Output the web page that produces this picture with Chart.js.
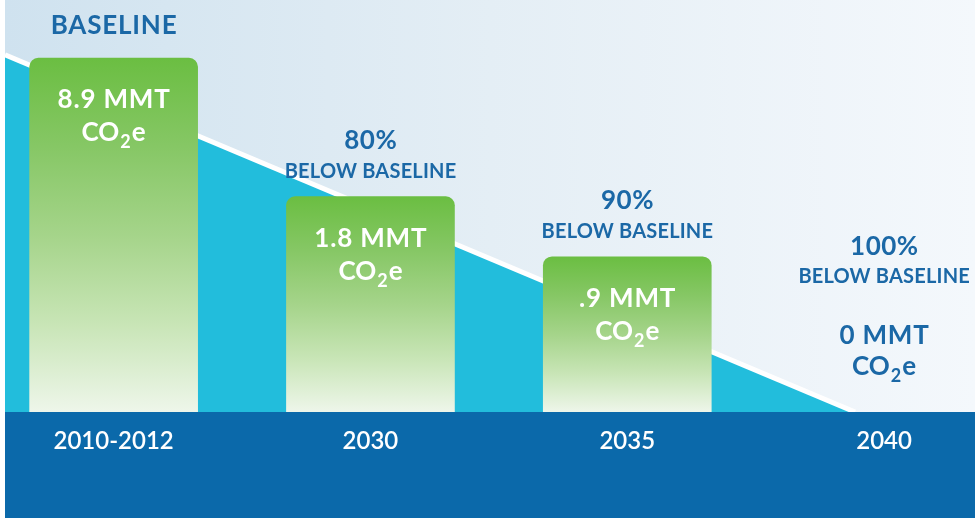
<!DOCTYPE html>
<html>
<head>
<meta charset="utf-8">
<script src="https://cdn.jsdelivr.net/npm/chart.js@4/dist/chart.umd.min.js"></script>
<style>
  html, body { margin: 0; padding: 0; background: #fff; }
</style>
</head>
<body>
<canvas id="emissions" width="975" height="518"></canvas>
<script>
const periods = ['2010-2012', '2030', '2035', '2040'];
const emissions = [8.9, 1.8, 0.9, 0];        // MMT CO2e
const belowBaseline = [0, 80, 90, 100];      // % below baseline
// reduction path drawn behind the bars (x = period index, y = level on 0-100)
const pathX = [-0.423, 2.887];
const pathY = [86.7, 0];

const BLUE = '#1b68a6';
const FONT = 'Lato, "Open Sans", sans-serif';

function fmtMMT(v) {
  const s = String(v);
  return (v > 0 && v < 1 ? s.replace(/^0/, '') : s) + ' MMT';
}

function barFill(c) {
  const chart = c.chart;
  const area = chart.chartArea;
  if (!area || !c.parsed || !(c.parsed.y > 0)) return 'rgba(0,0,0,0)';
  const top = chart.scales.y.getPixelForValue(c.parsed.y);
  const g = chart.ctx.createLinearGradient(0, top, 0, area.bottom);
  g.addColorStop(0, '#6bbe42');
  g.addColorStop(0.25, '#86c765');
  g.addColorStop(0.5, '#a5d48a');
  g.addColorStop(0.75, '#c8e5b6');
  g.addColorStop(1, '#eef6ea');
  return g;
}

// text centred on its cap height
function capText(ctx, str, cx, cy, size, color, spacing) {
  ctx.font = 'bold ' + size + 'px ' + FONT;
  ctx.letterSpacing = (spacing || 0) + 'px';
  ctx.fillStyle = color;
  ctx.textAlign = 'center';
  ctx.textBaseline = 'alphabetic';
  ctx.fillText(str, cx + (spacing || 0) / 2, cy + size * 0.36);
  ctx.letterSpacing = '0px';
}

function co2e(ctx, cx, cy, color) {
  const big = 'bold 26px ' + FONT, small = 'bold 18px ' + FONT;
  ctx.letterSpacing = '0px';
  ctx.font = big;
  const wCO = ctx.measureText('CO').width + 1, wE = ctx.measureText('e').width;
  ctx.font = small;
  const w2 = ctx.measureText('2').width + 1;
  const x0 = cx - (wCO + w2 + wE) / 2;
  const base = cy + 26 * 0.36;
  ctx.fillStyle = color;
  ctx.textAlign = 'left';
  ctx.textBaseline = 'alphabetic';
  ctx.font = big;
  ctx.fillText('CO', x0, base);
  ctx.font = small;
  ctx.fillText('2', x0 + wCO, base + 7);
  ctx.font = big;
  ctx.fillText('e', x0 + wCO + w2, base);
}

const backdrop = {
  id: 'backdrop',
  beforeDraw(chart) {
    const {ctx, chartArea: a, width, height} = chart;
    ctx.save();
    ctx.fillStyle = '#fff';
    ctx.fillRect(0, 0, width, height);
    const g = ctx.createLinearGradient(a.left, 0, a.right, 0);
    g.addColorStop(0, '#cfe2ef');
    g.addColorStop(0.5, '#e4eef5');
    g.addColorStop(1, '#f4f8fc');
    ctx.fillStyle = g;
    ctx.fillRect(a.left, 0, a.right - a.left, a.bottom);
    ctx.fillStyle = '#0b69aa';
    ctx.fillRect(a.left, a.bottom, a.right - a.left, height - a.bottom);
    ctx.restore();
  }
};

const barLabels = {
  id: 'barLabels',
  afterDatasetsDraw(chart) {
    const {ctx, chartArea: a, scales: {x, y}} = chart;
    ctx.save();
    emissions.forEach((v, i) => {
      const cx = x.getPixelForValue(i);
      if (v > 0) {
        const top = y.getPixelForValue(v);
        capText(ctx, fmtMMT(v), cx, top + 41, 26, '#fff', 0.8);
        co2e(ctx, cx, top + 74, '#fff');
        if (belowBaseline[i] === 0) {
          capText(ctx, 'BASELINE', cx, top - 33, 26, BLUE, 0.8);
        } else {
          capText(ctx, belowBaseline[i] + '%', cx, top - 57, 26, BLUE, 0.5);
          capText(ctx, 'BELOW BASELINE', cx, top - 26, 20, BLUE, 0.2);
        }
      } else {
        const base = a.bottom;
        capText(ctx, belowBaseline[i] + '%', cx, base - 166, 26, BLUE, 0.5);
        capText(ctx, 'BELOW BASELINE', cx, base - 136, 20, BLUE, 0.2);
        capText(ctx, fmtMMT(v), cx, base - 77, 26, BLUE, 0.8);
        co2e(ctx, cx, base - 46, BLUE);
      }
    });
    ctx.restore();
  }
};

new Chart(document.getElementById('emissions'), {
  type: 'bar',
  data: {
    datasets: [
      {
        type: 'line',
        data: pathX.map((px, i) => ({x: px, y: pathY[i]})),
        yAxisID: 'y2',
        borderColor: '#ffffff',
        borderWidth: 5,
        backgroundColor: '#22bddc',
        fill: 'origin',
        pointRadius: 0,
        tension: 0,
        order: 2
      },
      {
        type: 'bar',
        data: emissions.map((v, i) => ({x: i, y: v})),
        yAxisID: 'y',
        backgroundColor: barFill,
        borderRadius: 9,
        borderSkipped: 'start',
        barThickness: 168,
        order: 1
      }
    ]
  },
  options: {
    responsive: false,
    animation: false,
    layout: { padding: { left: 5, right: 0, top: 0, bottom: 0 } },
    plugins: {
      legend: { display: false },
      tooltip: { enabled: false }
    },
    scales: {
      x: {
        type: 'linear',
        min: -0.423,
        max: 3.354,
        offset: false,
        grid: { display: false, drawTicks: false },
        border: { display: false },
        ticks: {
          stepSize: 1,
          includeBounds: false,
          autoSkip: false,
          maxRotation: 0,
          padding: 15,
          color: '#ffffff',
          font: { family: FONT, size: 24, weight: '600' },
          callback: v => periods[v] ?? ''
        },
        afterFit(scale) { scale.height = 106; }
      },
      y: { type: 'logarithmic', display: false, min: 0.15, max: 17.4 },
      y2: { type: 'linear', display: false, min: 0, max: 100 }
    }
  },
  plugins: [backdrop, barLabels]
});
</script>
</body>
</html>
